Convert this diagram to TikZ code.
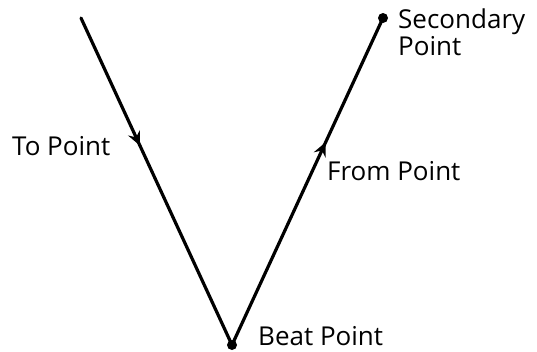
\documentclass[tikz,border=0pt]{standalone}
\usepackage{fontspec}
\setmainfont{Open Sans}
\usepackage{tikz}
\usetikzlibrary{positioning,arrows.meta,decorations.markings}
\tikzset{
  punto/.style={circle, fill=black, inner sep=0pt, minimum size=10pt},
  etq/.style={inner sep=0pt, anchor=base west, align=left,
    font=\fontsize{26}{27}\selectfont},
  trazo/.style={line width=3.2pt, line cap=round},
  flechamed/.style={decoration={markings,
    mark=at position #1 with {\arrow{Stealth[length=14pt,width=13pt,inset=5pt]}}},
    postaction={decorate}},
}
\begin{document}
\begin{tikzpicture}[x=1pt, y=-1pt]
  \useasboundingbox (0,0) rectangle (537,351);
  \coordinate (inicio) at (81,18);
  \node[punto] (beat) at (232,345) {};
  \node[punto] (sec) at (383,18) {};
  \draw[trazo, flechamed=0.39] (inicio) -- (beat.center);
  \draw[trazo, flechamed=0.62] (beat.center) -- (sec.center);
  \node[etq] (lto) at (12,155) {To Point};
  \node[etq] (lfrom) at (327,180) {From Point};
  \node[etq] (lsec) at (398,55) {Secondary\\Point};
  \node[etq] (lbeat) at (258,345) {Beat Point};
\end{tikzpicture}
\end{document}
